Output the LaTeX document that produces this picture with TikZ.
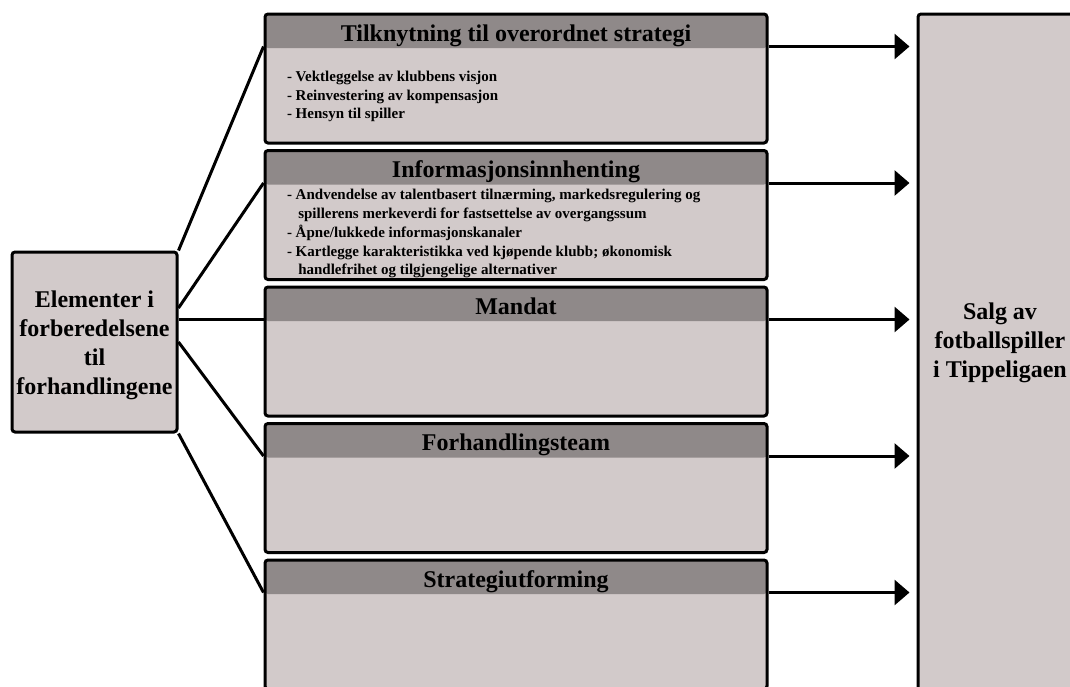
\documentclass[tikz,border=0pt]{standalone}
\usepackage{fontspec}
\setmainfont{Liberation Serif}
\usepackage{tikz}
\usetikzlibrary{arrows.meta,positioning}
\definecolor{boxgrey}{RGB}{210,202,202}
\definecolor{headgrey}{RGB}{143,137,137}

\begin{document}
\begin{tikzpicture} [x=1pt,y=-1pt,line width=3pt,node distance=136.5pt,
  box/.style={draw,rounded corners=3pt,fill=boxgrey,minimum width=502pt,minimum height=129pt,inner sep=0pt,
    path picture={\fill[headgrey] (path picture bounding box.north west) rectangle ([yshift=-34pt]path picture bounding box.north east);}},
  side/.style={draw,rounded corners=3pt,fill=boxgrey,inner sep=0pt},
  head/.style={font=\fontsize{24}{28}\selectfont\bfseries,inner sep=0pt,anchor=base},
  items/.style={font=\fontsize{15}{18.7}\selectfont\bfseries,align=left,anchor=north west,inner sep=0pt},
  big/.style={font=\fontsize{24}{29}\selectfont\bfseries,align=center,inner sep=0pt}]
  \useasboundingbox (0,0) rectangle (1070,686);

  \node[side,minimum width=165pt,minimum height=180pt] (elem) at (94.5,342) {};
  \node[big] (elemtekst) at (94.5,345) {Elementer i\\forberedelsene\\til\\forhandlingene};

  \node[box] (tilk) at (516,78.5) {};
  \node[box] (info) [below of=tilk] {};
  \node[box] (mandat) [below of=info] {};
  \node[box] (team) [below of=mandat] {};
  \node[box] (strat) [below of=team] {};

  \node[side,minimum width=164pt,minimum height=686pt] (salg) at (1000,357) {};
  \node[big] (salgtekst) at (1000,343) {Salg av\\fotballspiller\\i Tippeligaen};

  \node[head] (tilkhead) at ([yshift=-28.5pt]tilk.north) {Tilknytning til overordnet strategi};
  \node[head] (infohead) at ([yshift=-28.5pt]info.north) {Informasjonsinnhenting};
  \node[head] (mandathead) at ([yshift=-28.5pt]mandat.north) {Mandat};
  \node[head] (teamhead) at ([yshift=-28.5pt]team.north) {Forhandlingsteam};
  \node[head] (strathead) at ([yshift=-28.5pt]strat.north) {Strategiutforming};

  \node[items] (tilkliste) at ([xshift=22pt,yshift=-57pt]tilk.north west)
    {- Vektleggelse av klubbens visjon\\- Reinvestering av kompensasjon\\- Hensyn til spiller};
  \node[items] (infoliste) at ([xshift=22pt,yshift=-39pt]info.north west)
    {- Andvendelse av talentbasert tiln\ae rming, markedsregulering og\\
     \hspace*{0.75em}spillerens merkeverdi for fastsettelse av overgangssum\\
     - \AA pne/lukkede informasjonskanaler\\
     - Kartlegge karakteristikka ved kj\o pende klubb; \o konomisk\\
     \hspace*{0.75em}handlefrihet og tilgjengelige alternativer};

  \path[draw]
    (elem.north east) edge ([yshift=-34pt]tilk.north west)
    ([yshift=34pt]elem.east) edge ([yshift=-34pt]info.north west)
    ([yshift=-34pt]mandat.north west -| elem.east) edge ([yshift=-34pt]mandat.north west)
    (elem.east) edge ([yshift=-34pt]team.north west)
    (elem.south east) edge ([yshift=-34pt]strat.north west);

  \path[-{Triangle[length=15pt,width=25pt]},shorten >=7pt]
    ([yshift=-34pt]tilk.north east) edge ([yshift=-34pt]tilk.north east -| salg.west)
    ([yshift=-34pt]info.north east) edge ([yshift=-34pt]info.north east -| salg.west)
    ([yshift=-34pt]mandat.north east) edge ([yshift=-34pt]mandat.north east -| salg.west)
    ([yshift=-34pt]team.north east) edge ([yshift=-34pt]team.north east -| salg.west)
    ([yshift=-34pt]strat.north east) edge ([yshift=-34pt]strat.north east -| salg.west);
\end{tikzpicture}
\end{document}
